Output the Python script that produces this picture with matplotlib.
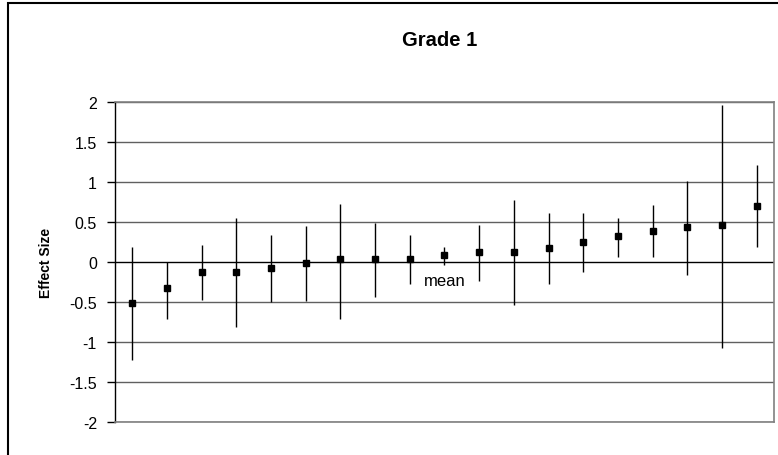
import matplotlib
matplotlib.use("Agg")
import matplotlib.pyplot as plt
from matplotlib.patches import Rectangle
import numpy as np

plt.rcParams['font.family'] = ['Liberation Sans', 'DejaVu Sans']

effect = [-0.51, -0.33, -0.13, -0.13, -0.07, -0.01, 0.04, 0.04, 0.04, 0.09,
          0.12, 0.13, 0.17, 0.25, 0.32, 0.39, 0.44, 0.46, 0.70]
upper = [0.19, 0.00, 0.21, 0.55, 0.34, 0.45, 0.73, 0.49, 0.34, 0.19,
         0.46, 0.78, 0.61, 0.61, 0.55, 0.71, 1.01, 1.96, 1.21]
lower = [-1.23, -0.71, -0.47, -0.81, -0.50, -0.49, -0.71, -0.44, -0.28, -0.04,
         -0.24, -0.54, -0.28, -0.12, 0.06, 0.06, -0.16, -1.07, 0.19]
yticks = [2, 1.5, 1, 0.5, 0, -0.5, -1, -1.5, -2]
ytick_labels = ['2', '1.5', '1', '0.5', '0', '-0.5', '-1', '-1.5', '-2']
mean_index = 9

fig = plt.figure(figsize=(7.78, 4.56), dpi=100)
W, H = 778, 456
ax = fig.add_axes([115 / W, (H - 423) / H, (774 - 115) / W, (423 - 103) / H])

x = np.arange(1, len(effect) + 1)
ax.vlines(x, lower, upper, color='black', lw=1, zorder=3)
ax.plot(x, effect, 's', color='black', ms=4.8, zorder=4)

ax.set_xlim(0.5, len(effect) + 0.5)
ax.set_ylim(-2, 2)
ax.set_yticks(yticks)
ax.set_yticklabels(ytick_labels, fontsize=11.5)
ax.set_xticks([])
for yv in yticks:
    if yv == 0:
        ax.axhline(0, color='black', lw=1, zorder=2)
    else:
        ax.axhline(yv, color='#606060', lw=1, zorder=1)
ax.tick_params(axis='y', direction='out', length=6, width=1, pad=7, color='black')
for s in ['top', 'right', 'bottom']:
    ax.spines[s].set_color('#808080')
    ax.spines[s].set_linewidth(1.2)
ax.spines['left'].set_color('black')
ax.spines['left'].set_linewidth(1)

ax.set_ylabel('Effect Size', fontsize=10, fontweight='bold', labelpad=12)
ax.text(x[mean_index], -0.14, 'mean', ha='center', va='top', fontsize=12)

fig.text(440 / W, 1 - 40 / H, 'Grade 1', ha='center', va='center',
         fontsize=14.5, fontweight='bold')

fig.patches.append(Rectangle((8 / W, -0.05), 1.2, 1 - 4 / H + 0.05,
                             transform=fig.transFigure, fill=False,
                             edgecolor='black', lw=1.5))

fig.savefig('out.png', dpi=100)
